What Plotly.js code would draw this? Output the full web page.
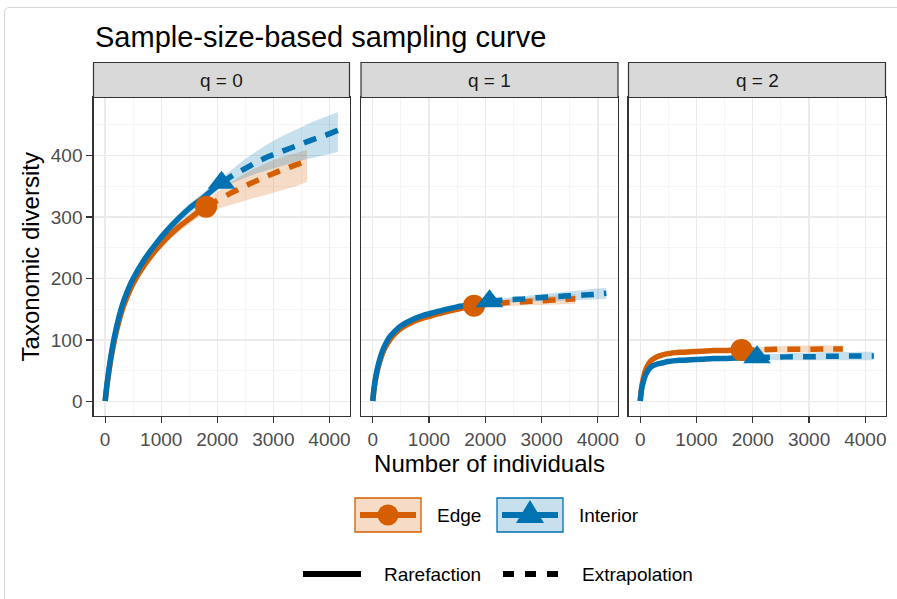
<!DOCTYPE html>
<html><head><meta charset="utf-8">
<script src="https://cdn.plot.ly/plotly-3.0.1.min.js"></script>
<style>
html,body{margin:0;padding:0;background:#fff;overflow:hidden;}
#frame{position:absolute;left:4px;top:7px;width:905px;height:610px;border:1px solid #d6d6d6;border-radius:5px;}
#chart{position:absolute;left:0;top:0;width:897px;height:599px;}
</style></head><body><div id="frame"></div><div id="chart"></div>
<script>
// ---------------- data ----------------
const panelLabels = ['q = 0', 'q = 1', 'q = 2'];
const groups = ['Edge', 'Interior'];

// sample sizes
const edgeRareN = [1, 25, 50, 100, 150, 200, 300, 400, 500, 700, 900, 1100, 1300, 1500, 1700, 1800];
const edgeExtN  = [1800, 2000, 2200, 2400, 2600, 2800, 3000, 3200, 3400, 3600];
const intRareN  = [1, 25, 50, 100, 150, 200, 300, 400, 500, 700, 900, 1100, 1300, 1500, 1700, 1900, 2075];
const intExtN   = [2075, 2300, 2500, 2700, 2900, 3100, 3300, 3500, 3700, 3900, 4150];

// observed reference samples
const edgeObsN = 1800;
const intObsN = 2075;
const edgeObs = [317, 156, 84];
const intObs  = [356, 163, 72];

// q = 0
const edgeRareQ0   = [1, 21, 38, 68, 93, 114, 148, 172, 192, 222, 246, 266, 283, 297, 311, 317];
const edgeRareQ0Lo = [1, 20, 36, 65, 90, 110, 143, 167, 186, 216, 239, 259, 275, 289, 302, 308];
const edgeRareQ0Hi = [1, 22, 40, 71, 96, 118, 153, 177, 198, 228, 253, 273, 291, 305, 320, 326];
const edgeExtQ0    = [317, 327, 337, 346, 355, 363, 371, 378, 385, 391];
const edgeExtQ0Lo  = [308, 313, 319, 324, 330, 335, 340, 345, 350, 357];
const edgeExtQ0Hi  = [326, 341, 354, 366, 376, 385, 393, 399, 404, 409];
const intRareQ0    = [1, 22, 40, 72, 98, 120, 155, 180, 200, 231, 256, 278, 297, 314, 328, 343, 356];
const intRareQ0Lo  = [1, 21, 38, 69, 95, 116, 150, 175, 195, 225, 250, 271, 290, 306, 320, 335, 348];
const intRareQ0Hi  = [1, 23, 42, 75, 101, 124, 160, 185, 205, 237, 262, 285, 304, 322, 336, 351, 364];
const intExtQ0     = [356, 369, 379, 389, 398, 405, 412, 419, 426, 432, 441];
const intExtQ0Lo   = [348, 357, 364, 371, 377, 382, 387, 392, 397, 401, 406];
const intExtQ0Hi   = [364, 381, 395, 407, 419, 429, 438, 447, 455, 462, 471];

// q = 1
const edgeRareQ1   = [1, 21, 36, 57, 72, 84, 100, 111, 119, 129, 136, 141, 146, 150, 154, 156];
const edgeRareQ1Lo = [1, 20, 35, 55, 70, 82, 98, 108, 116, 126, 133, 138, 143, 147, 151, 153];
const edgeRareQ1Hi = [1, 22, 37, 59, 74, 86, 102, 114, 122, 132, 139, 144, 149, 153, 157, 159];
const edgeExtQ1    = [156, 158, 159, 161, 162, 163, 164, 165, 166, 167];
const edgeExtQ1Lo  = [153, 154, 155, 156, 156, 157, 157, 158, 158, 159];
const edgeExtQ1Hi  = [159, 162, 164, 166, 168, 169, 171, 172, 174, 175];
const intRareQ1    = [1, 22, 38, 60, 76, 88, 105, 115, 123, 133, 140, 145, 150, 154, 157, 160, 163];
const intRareQ1Lo  = [1, 21, 37, 58, 74, 86, 103, 112, 120, 130, 137, 142, 147, 151, 154, 157, 160];
const intRareQ1Hi  = [1, 23, 39, 62, 78, 90, 107, 118, 126, 136, 143, 148, 153, 157, 160, 163, 166];
const intExtQ1     = [163, 165, 166, 167, 169, 170, 171, 172, 173, 174, 176];
const intExtQ1Lo   = [160, 160, 161, 162, 163, 163, 164, 164, 165, 166, 167];
const intExtQ1Hi   = [166, 168, 170, 172, 174, 176, 178, 180, 181, 183, 185];

// q = 2
const edgeRareQ2   = [1, 22, 35, 52, 61, 67, 73, 76, 78, 80, 81, 82, 83, 83, 84, 84];
const edgeRareQ2Lo = [1, 21, 33, 49, 58, 64, 70, 73, 75, 77, 78, 79, 80, 80, 80, 80];
const edgeRareQ2Hi = [1, 23, 37, 55, 64, 70, 76, 79, 81, 83, 84, 85, 86, 86, 87, 88];
const edgeExtQ2    = [84, 84, 84.5, 85, 85, 85, 85, 85.5, 85.5, 85.5];
const edgeExtQ2Lo  = [80, 80, 80, 80, 80, 80, 80, 80, 80, 80];
const edgeExtQ2Hi  = [88, 89, 89, 90, 90, 91, 91, 91, 91, 91];
const intRareQ2    = [1, 20, 30, 44, 52, 57, 61, 63, 65, 67, 68, 69, 70, 70, 71, 71, 72];
const intRareQ2Lo  = [1, 19, 28, 41, 49, 54, 58, 60, 62, 63, 64, 65, 66, 66, 67, 67, 68];
const intRareQ2Hi  = [1, 21, 32, 47, 55, 60, 64, 66, 68, 71, 72, 73, 74, 74, 75, 75, 76];
const intExtQ2     = [72, 72, 72.5, 73, 73, 73, 73.5, 73.5, 74, 74, 74];
const intExtQ2Lo   = [68, 67, 67, 67, 67, 67, 67, 67, 67, 67, 67];
const intExtQ2Hi   = [76, 77, 78, 79, 79, 80, 80, 80, 81, 81, 81];

const xTicks = [0, 1000, 2000, 3000, 4000];
const yTicks = [0, 100, 200, 300, 400];

// ---------------- assembly ----------------
const series = {
  Edge: {
    rareN: edgeRareN, extN: edgeExtN, obsN: edgeObsN, obs: edgeObs,
    rare: [edgeRareQ0, edgeRareQ1, edgeRareQ2], rareLo: [edgeRareQ0Lo, edgeRareQ1Lo, edgeRareQ2Lo], rareHi: [edgeRareQ0Hi, edgeRareQ1Hi, edgeRareQ2Hi],
    ext: [edgeExtQ0, edgeExtQ1, edgeExtQ2], extLo: [edgeExtQ0Lo, edgeExtQ1Lo, edgeExtQ2Lo], extHi: [edgeExtQ0Hi, edgeExtQ1Hi, edgeExtQ2Hi],
    color: '#D55E00', band: 'rgba(213,94,0,0.22)', symbol: 'circle', msize: 22
  },
  Interior: {
    rareN: intRareN, extN: intExtN, obsN: intObsN, obs: intObs,
    rare: [intRareQ0, intRareQ1, intRareQ2], rareLo: [intRareQ0Lo, intRareQ1Lo, intRareQ2Lo], rareHi: [intRareQ0Hi, intRareQ1Hi, intRareQ2Hi],
    ext: [intExtQ0, intExtQ1, intExtQ2], extLo: [intExtQ0Lo, intExtQ1Lo, intExtQ2Lo], extHi: [intExtQ0Hi, intExtQ1Hi, intExtQ2Hi],
    color: '#0072B2', band: 'rgba(0,114,178,0.22)', symbol: 'triangle-up', msize: 24
  }
};

const FONT = 'Liberation Sans, Arial, sans-serif';
const LW = 5.5;
const traces = [];
const bands = [], lines = [], points = [];
for (let p = 0; p < 3; p++) {
  const xa = p === 0 ? 'x' : 'x' + (p + 1);
  const ya = p === 0 ? 'y' : 'y' + (p + 1);
  for (const g of groups) {
    const s = series[g];
    const allN = s.rareN.concat(s.extN.slice(1));
    const allLo = s.rareLo[p].concat(s.extLo[p].slice(1));
    const allHi = s.rareHi[p].concat(s.extHi[p].slice(1));
    bands.push({
      type: 'scatter', mode: 'lines', xaxis: xa, yaxis: ya,
      x: allN.concat(allN.slice().reverse()),
      y: allHi.concat(allLo.slice().reverse()),
      fill: 'toself', fillcolor: s.band, line: {width: 0, color: 'rgba(0,0,0,0)'},
      showlegend: false, hoverinfo: 'skip'
    });
    lines.push({
      type: 'scatter', mode: 'lines', xaxis: xa, yaxis: ya,
      x: s.rareN, y: s.rare[p],
      line: {color: s.color, width: LW, shape: 'spline', smoothing: 0.8},
      showlegend: false, name: g + ' rarefaction'
    });
    lines.push({
      type: 'scatter', mode: 'lines', xaxis: xa, yaxis: ya,
      x: s.extN, y: s.ext[p],
      line: {color: s.color, width: LW, dash: '13px,10px', shape: 'spline', smoothing: 0.8},
      showlegend: false, name: g + ' extrapolation'
    });
    points.push({
      type: 'scatter', mode: 'markers', xaxis: xa, yaxis: ya,
      x: [s.obsN], y: [s.obs[p]],
      marker: {color: s.color, symbol: s.symbol, size: s.msize, line: {width: 0}},
      showlegend: false, name: g + ' observed'
    });
  }
}
traces.push(...bands, ...lines, ...points);

// ---------------- layout ----------------
const W = 897, H = 599;
const px = v => v / W;
const py = v => 1 - v / H;
const plotTop = 97.5, plotBottom = 416, stripTop = 62.5;
const domainsX = [[93.5, 349.5], [361, 618], [628.5, 885.5]];
const yDom = [py(plotBottom), py(plotTop)];

const baseX = {
  range: [-207.5, 4357.5], tickvals: xTicks, ticktext: xTicks.map(String),
  ticks: 'outside', ticklen: 6, tickwidth: 1.2, tickcolor: '#333333',
  tickfont: {family: FONT, size: 19, color: '#4D4D4D'},
  showgrid: true, gridcolor: '#EBEBEB', gridwidth: 1.3,
  minor: {dtick: 500, tick0: 0, showgrid: true, gridcolor: '#F3F3F3', gridwidth: 0.8, ticks: ''},
  zeroline: false, showline: true, linecolor: '#333333', linewidth: 1.2, mirror: true,
  fixedrange: true
};
const baseY = {
  range: [-23.5, 494.5], tickvals: yTicks, ticktext: yTicks.map(String),
  showgrid: true, gridcolor: '#EBEBEB', gridwidth: 1.3,
  minor: {dtick: 50, tick0: 0, showgrid: true, gridcolor: '#F3F3F3', gridwidth: 0.8, ticks: ''},
  zeroline: false, showline: true, linecolor: '#333333', linewidth: 1.2, mirror: true,
  domain: yDom, fixedrange: true
};

const layout = {
  width: W, height: H,
  margin: {l: 0, r: 0, t: 0, b: 0},
  paper_bgcolor: 'rgba(0,0,0,0)', plot_bgcolor: '#FFFFFF',
  font: {family: FONT},
  showlegend: false,
  title: {text: 'Sample-size-based sampling curve', x: px(95), xanchor: 'left', xref: 'paper',
          y: py(37), yanchor: 'middle', yref: 'paper', font: {family: FONT, size: 29, color: '#000000'}},
  shapes: [], annotations: []
};
for (let p = 0; p < 3; p++) {
  const xk = p === 0 ? 'xaxis' : 'xaxis' + (p + 1);
  const yk = p === 0 ? 'yaxis' : 'yaxis' + (p + 1);
  const xa = p === 0 ? 'x' : 'x' + (p + 1);
  layout[xk] = Object.assign({}, baseX, {domain: [px(domainsX[p][0]), px(domainsX[p][1])], anchor: p === 0 ? 'y' : 'y' + (p + 1)});
  const yExtra = p === 0 ? {
    ticks: 'outside', ticklen: 6, tickwidth: 1.2, tickcolor: '#333333',
    tickfont: {family: FONT, size: 19, color: '#4D4D4D'},
    title: {text: 'Taxonomic diversity', font: {family: FONT, size: 24, color: '#000000'}, standoff: 4}
  } : {showticklabels: false, ticks: '', matches: 'y'};
  layout[yk] = Object.assign({}, baseY, yExtra, {anchor: xa});
  // facet strip
  layout.shapes.push({type: 'rect', xref: xa + ' domain', yref: 'paper', x0: 0, x1: 1,
    y0: py(plotTop), y1: py(stripTop), fillcolor: '#D9D9D9', line: {color: '#333333', width: 1.2}, layer: 'above'});
  layout.annotations.push({xref: xa + ' domain', yref: 'paper', x: 0.5, y: py((plotTop + stripTop) / 2),
    text: panelLabels[p], showarrow: false, xanchor: 'center', yanchor: 'middle',
    font: {family: FONT, size: 19, color: '#1A1A1A'}});
}
layout.xaxis2.title = {text: 'Number of individuals', font: {family: FONT, size: 24, color: '#000000'}, standoff: 6};

// ---------------- legend (drawn as layout decorations) ----------------
const legY1 = 515, legY2 = 574;
const keyBoxes = [
  {g: 'Edge', x0: 355, x1: 421, text: 'Edge', tx: 435},
  {g: 'Interior', x0: 497, x1: 563, text: 'Interior', tx: 577}
];
for (const k of keyBoxes) {
  const s = series[k.g];
  layout.shapes.push({type: 'rect', xref: 'paper', yref: 'paper', x0: px(k.x0), x1: px(k.x1),
    y0: py(legY1 + 17), y1: py(legY1 - 17), fillcolor: s.band, line: {color: s.color, width: 1.3}});
  layout.shapes.push({type: 'line', xref: 'paper', yref: 'paper', x0: px(k.x0 + 5), x1: px(k.x1 - 5),
    y0: py(legY1), y1: py(legY1), line: {color: s.color, width: 6}});
  const cx = (k.x0 + k.x1) / 2;
  if (s.symbol === 'circle') {
    layout.shapes.push({type: 'circle', xref: 'paper', yref: 'paper', x0: px(cx - 10.5), x1: px(cx + 10.5),
      y0: py(legY1 + 10.5), y1: py(legY1 - 10.5), fillcolor: s.color, line: {width: 0}});
  } else {
    layout.shapes.push({type: 'path', xref: 'paper', yref: 'paper',
      path: 'M' + px(cx - 14) + ',' + py(legY1 + 8) + ' L' + px(cx + 14) + ',' + py(legY1 + 8) + ' L' + px(cx) + ',' + py(legY1 - 15) + ' Z',
      fillcolor: s.color, line: {width: 0}});
  }
  layout.annotations.push({xref: 'paper', yref: 'paper', x: px(k.tx), y: py(legY1), text: k.text, showarrow: false,
    xanchor: 'left', yanchor: 'middle', font: {family: FONT, size: 19, color: '#000000'}});
}
// line-type keys
layout.shapes.push({type: 'line', xref: 'paper', yref: 'paper', x0: px(303), x1: px(361), y0: py(legY2), y1: py(legY2),
  line: {color: '#000000', width: 6}});
layout.shapes.push({type: 'line', xref: 'paper', yref: 'paper', x0: px(503), x1: px(558), y0: py(legY2), y1: py(legY2),
  line: {color: '#000000', width: 6, dash: '11px,11px'}});
layout.annotations.push({xref: 'paper', yref: 'paper', x: px(382), y: py(legY2), text: 'Rarefaction', showarrow: false,
  xanchor: 'left', yanchor: 'middle', font: {family: FONT, size: 19, color: '#000000'}});
layout.annotations.push({xref: 'paper', yref: 'paper', x: px(580), y: py(legY2), text: 'Extrapolation', showarrow: false,
  xanchor: 'left', yanchor: 'middle', font: {family: FONT, size: 19, color: '#000000'}});

Plotly.newPlot('chart', traces, layout, {displayModeBar: false, staticPlot: true});
</script></body></html>
